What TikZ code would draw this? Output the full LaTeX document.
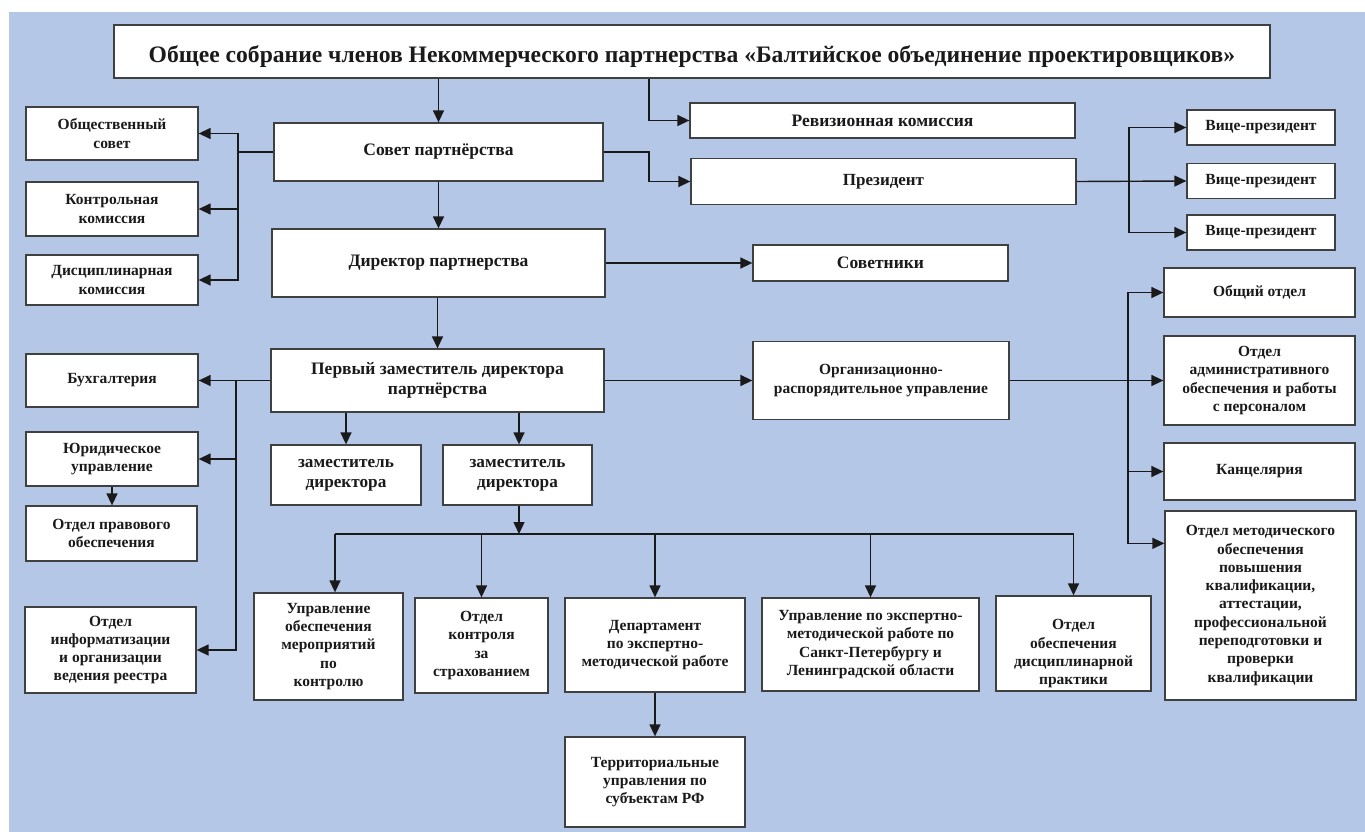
\documentclass[tikz,border=0pt]{standalone}
\usepackage{fontspec}
\setmainfont{Liberation Serif}
\usetikzlibrary{arrows.meta,calc}
\definecolor{bg}{HTML}{B4C7E7}
\definecolor{ink}{HTML}{1A1A1A}
\definecolor{frame}{HTML}{404040}
\begin{document}
\begin{tikzpicture}[x=1pt,y=-1pt,
  box/.style={draw=frame, line width=1.3pt, fill=white, inner sep=0pt, align=center, text=ink,
    font=\bfseries\fontsize{15.5}{18.3}\selectfont},
  midt/.style={font=\bfseries\fontsize{17.2}{20}\selectfont},
  bigt/.style={font=\bfseries\fontsize{17.5}{20.5}\selectfont},
  conn/.style={draw=ink, line width=1.4pt},
  arr/.style={conn, -{Triangle[length=12pt,width=11pt]}}]
\useasboundingbox (0,0) rectangle (1365,832);
\fill[white] (0,0) rectangle (1365,832);
\fill[bg] (9,12) rectangle (1365,832);

% top
\node[box, minimum width=1156pt, minimum height=53pt, font=\bfseries\fontsize{23.6}{27}\selectfont] (top) at (692,51.5)
  {\rule{0pt}{27pt}Общее собрание членов Некоммерческого партнерства «Балтийское объединение проектировщиков»};

% left column upper
\node[box, minimum width=172pt, minimum height=53pt] (obsov) at (112,133.5) {Общественный\\совет};
\node[box, minimum width=172pt, minimum height=54pt] (kontr) at (112,209) {Контрольная\\комиссия};
\node[box, minimum width=172pt, minimum height=50pt] (disc) at (112,280) {Дисциплинарная\\комиссия};

% centre column
\node[box, bigt, minimum width=329pt, minimum height=58pt] (sovet) at (438.5,152) {Совет партнёрства};
\node[box, bigt, minimum width=333pt, minimum height=68pt] (dir) at (438.5,263) {Директор партнерства};
\node[box, bigt, minimum width=333pt, minimum height=63pt] (perv) at (437.5,380.5) {Первый заместитель директора\\партнёрства};

% rev / pres
\node[box, bigt, minimum width=385pt, minimum height=35pt] (rev) at (882.5,120.5) {Ревизионная комиссия};
\node[box, font=\bfseries\fontsize{17}{20}\selectfont, minimum width=385pt, minimum height=46pt] (pres) at (883.5,181.5) {Президент};

% vice presidents
\node[box, minimum width=148pt, minimum height=35pt] (vp1) at (1261,127.5) {Вице-президент};
\node[box, minimum width=148pt, minimum height=35pt] (vp2) at (1261,181) {Вице-президент};
\node[box, minimum width=148pt, minimum height=35pt] (vp3) at (1261,232.5) {Вице-президент};

\node[box, bigt, minimum width=255pt, minimum height=36pt] (sovetniki) at (880.5,263) {Советники};

% left column lower
\node[box, minimum width=172pt, minimum height=53pt] (buh) at (112,380.5) {Бухгалтерия};
\node[box, minimum width=172pt, minimum height=54pt] (jur) at (112,459) {Юридическое\\управление};
\node[box, minimum width=171pt, minimum height=55pt] (prav) at (111.5,533.5) {Отдел правового\\обеспечения};
\node[box, minimum width=171pt, minimum height=86pt] (inf) at (110.5,650) {Отдел\\информатизации\\и организации\\ведения реестра};

% org
\node[box, minimum width=256pt, minimum height=78pt] (org) at (881,380.5) {Организационно-\\распорядительное управление};

% right column
\node[box, minimum width=191pt, minimum height=49pt] (obsh) at (1259.5,292.5) {Общий отдел};
\node[box, minimum width=191pt, minimum height=89pt] (adm) at (1259.5,380.5) {Отдел\\административного\\обеспечения и работы\\с персоналом};
\node[box, minimum width=191pt, minimum height=57pt] (kanc) at (1259.5,471.5) {Канцелярия};
\node[box, minimum width=191pt, minimum height=189pt] (metod) at (1260.5,605.5) {Отдел методического\\обеспечения\\повышения\\квалификации,\\аттестации,\\профессиональной\\переподготовки и\\проверки\\квалификации};

% deputies
\node[box, midt, minimum width=150pt, minimum height=60pt] (zam1) at (346,475) {заместитель\\директора};
\node[box, midt, minimum width=149pt, minimum height=60pt] (zam2) at (517.5,475) {заместитель\\директора};

% bottom row
\node[box, minimum width=149pt, minimum height=107pt] (upr) at (328.5,646.5) {Управление\\обеспечения\\мероприятий\\по\\контролю};
\node[box, minimum width=133pt, minimum height=95pt] (otk) at (481.5,645.5) {Отдел\\контроля\\за\\страхованием};
\node[box, minimum width=180pt, minimum height=94pt] (dep) at (655,645) {Департамент\\по экспертно-\\методической работе};
\node[box, minimum width=217pt, minimum height=93pt] (uprsp) at (870.5,644.5) {Управление по экспертно-\\методической работе по\\Санкт-Петербургу и\\Ленинградской области};
\node[box, minimum width=155pt, minimum height=95pt] (otdd) at (1073.5,643.5) {\rule{0pt}{31pt}Отдел\\обеспечения\\дисциплинарной\\практики};
\node[box, minimum width=180pt, minimum height=90pt] (terr) at (655,782) {Территориальные\\управления по\\субъектам РФ};

% helper coordinates
\coordinate (j1) at (649,0);
\coordinate (b1) at (238,0);
\coordinate (b2) at (1129,0);
\coordinate (b3) at (236,0);
\coordinate (b4) at (1128,0);
\coordinate (bus) at (519,534);

% connectors
\draw[arr] (top.south -| sovet.north) -- (sovet.north);
\draw[arr] (top.south -| j1) |- (rev.west);
\draw[arr] (sovet.east) -- (sovet.east -| j1) |- (pres.west);
\draw[conn] (sovet.west) -- (sovet.west -| b1);
\draw[arr] (sovet.west -| b1) |- (obsov.east);
\draw[arr] (sovet.west -| b1) |- (kontr.east);
\draw[arr] (sovet.west -| b1) |- (disc.east);
\draw[arr] (sovet.south) -- (sovet.south |- dir.north);

\draw[arr] (pres.east) -- (vp2.west);
\draw[arr] (pres.east -| b2) |- (vp1.west);
\draw[arr] (pres.east -| b2) |- (vp3.west);

\draw[arr] (dir.east) -- (sovetniki.west);
\draw[arr] (dir.south -| perv.north) -- (perv.north);

\draw[arr] (perv.west) -- (buh.east);
\draw[arr] (perv.west -| b3) |- (jur.east);
\draw[arr] (perv.west -| b3) |- (inf.east);
\draw[arr] (jur.south) -- (jur.south |- prav.north);

\draw[arr] (perv.east) -- (org.west);
\draw[arr] (org.east) -- (adm.west);
\draw[arr] (org.east -| b4) |- (obsh.west);
\draw[arr] (org.east -| b4) |- (kanc.west);
\draw[arr] (org.east -| b4) |- ($(metod.north west)+(0,33)$);

\draw[arr] (perv.south -| zam1.north) -- (zam1.north);
\draw[arr] (perv.south -| bus) -- (zam2.north -| bus);
\draw[arr] (zam2.south -| bus) -- (bus);
\draw[conn] ($(upr.north |- bus)+(6.5,0)$) -- (otdd.north |- bus);
\draw[arr] ($(upr.north |- bus)+(6.5,0)$) -- ($(upr.north)+(6.5,0)$);
\draw[arr] (otk.north |- bus) -- (otk.north);
\draw[arr] (dep.north |- bus) -- (dep.north);
\draw[arr] (uprsp.north |- bus) -- (uprsp.north);
\draw[arr] (otdd.north |- bus) -- (otdd.north);
\draw[arr] (dep.south) -- (terr.north);
\end{tikzpicture}
\end{document}
